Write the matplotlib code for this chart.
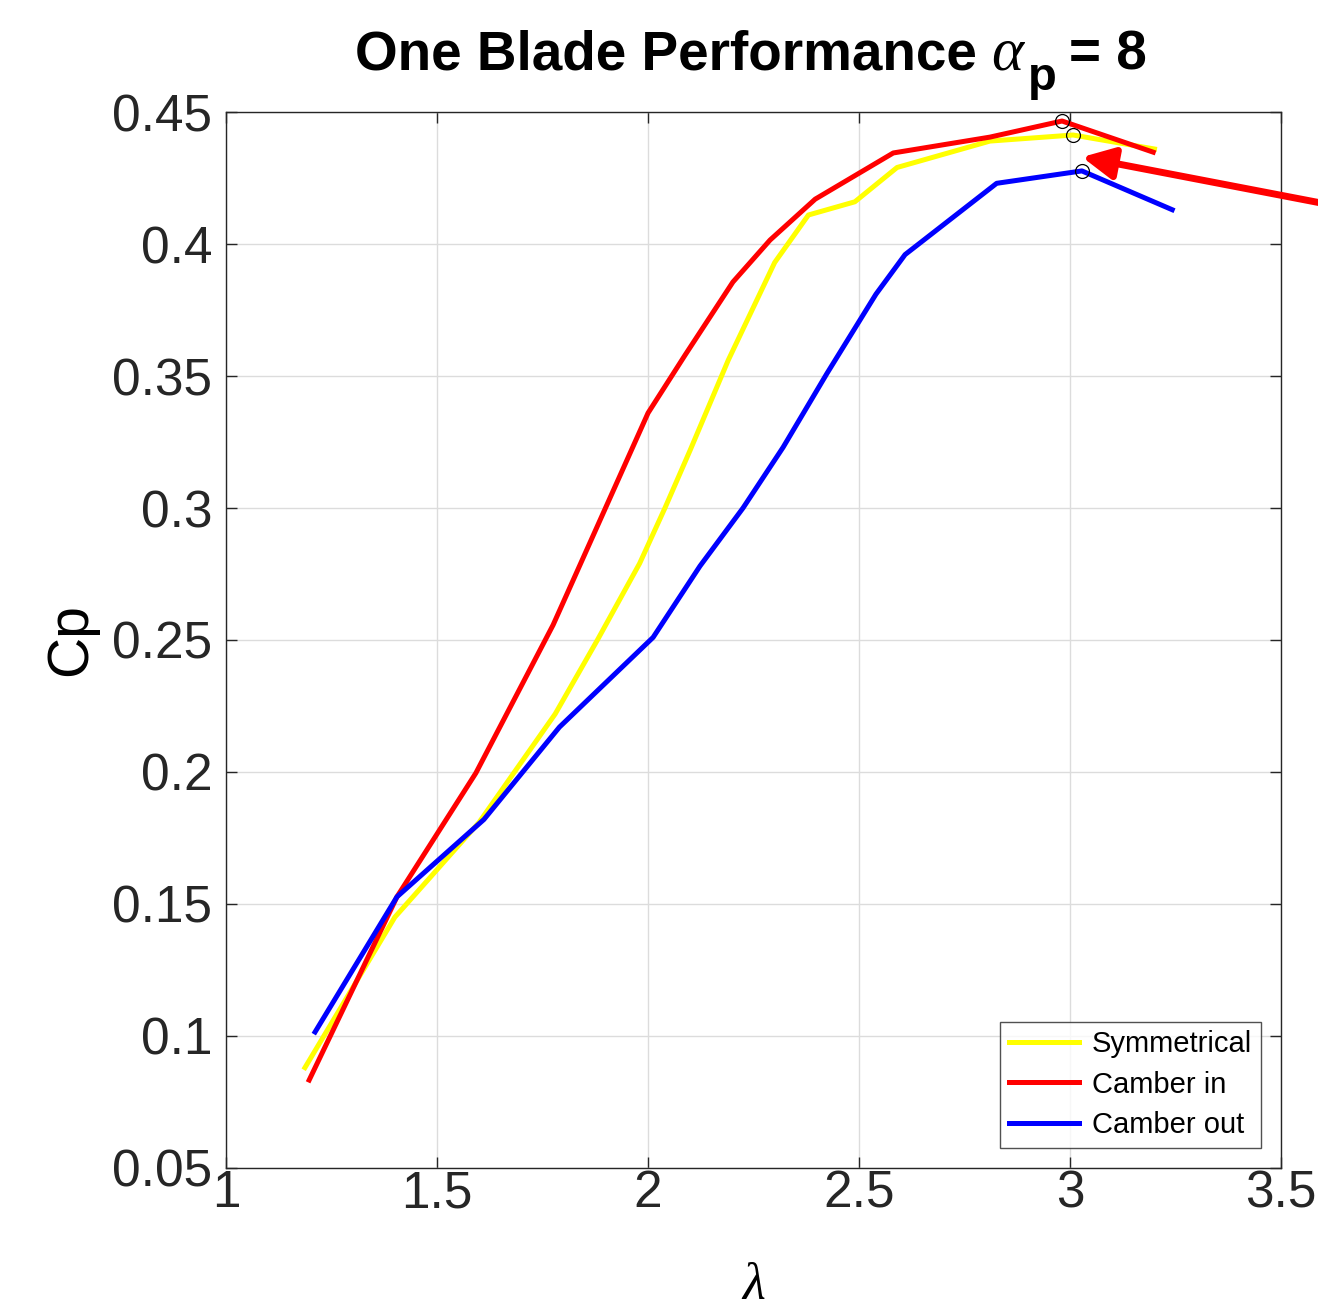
import numpy as np
import matplotlib.pyplot as plt

plt.rcParams['font.family'] = ['Liberation Sans', 'DejaVu Sans']
plt.rcParams['mathtext.fontset'] = 'custom'
plt.rcParams['mathtext.it'] = 'Liberation Serif:italic'
plt.rcParams['mathtext.rm'] = 'Liberation Serif'

# Symmetrical blade
sym_x = [1.187, 1.40, 1.60, 1.78, 1.88, 1.98, 2.04, 2.10, 2.19, 2.30, 2.38, 2.49, 2.59, 2.81, 3.007, 3.20]
sym_cp = [0.088, 0.145, 0.181, 0.222, 0.250, 0.279, 0.300, 0.322, 0.356, 0.393, 0.411, 0.416, 0.429, 0.439, 0.4413, 0.436]

# Camber in
cin_x = [1.197, 1.405, 1.592, 1.775, 2.00, 2.088, 2.201, 2.289, 2.396, 2.581, 2.81, 2.981, 3.197]
cin_cp = [0.0833, 0.1527, 0.1996, 0.2557, 0.336, 0.358, 0.3856, 0.4015, 0.417, 0.4345, 0.4405, 0.4466, 0.4348]

# Camber out
cout_x = [1.211, 1.405, 1.611, 1.79, 2.012, 2.123, 2.225, 2.32, 2.424, 2.54, 2.609, 2.826, 3.028, 3.242]
cout_cp = [0.1015, 0.1527, 0.182, 0.217, 0.251, 0.278, 0.300, 0.323, 0.351, 0.381, 0.396, 0.423, 0.4277, 0.413]

# peak markers
peak_x = [2.981, 3.007, 3.028]
peak_cp = [0.4466, 0.4413, 0.4277]

W, H = 1318, 1312
fig = plt.figure(figsize=(W / 100, H / 100), dpi=100)
ax = fig.add_axes([0.1715, 0.1098, 0.8005, 0.8048])

ax.plot(sym_x, sym_cp, color=(1, 1, 0), lw=3.6, label='Symmetrical')
ax.plot(cin_x, cin_cp, color=(1, 0, 0), lw=3.6, label='Camber in')
ax.plot(cout_x, cout_cp, color=(0, 0, 1), lw=3.6, label='Camber out')
ax.plot(peak_x, peak_cp, 'o', mfc='none', mec='black', mew=0.9, ms=10, zorder=5)

ax.set_xlim(1, 3.5)
ax.set_ylim(0.05, 0.45)
ax.set_xticks([1, 1.5, 2, 2.5, 3, 3.5])
ax.set_xticklabels(['1', '1.5', '2', '2.5', '3', '3.5'])
ax.set_yticks(np.arange(0.05, 0.451, 0.05))
ax.set_yticklabels(['0.05', '0.1', '0.15', '0.2', '0.25', '0.3', '0.35', '0.4', '0.45'])
ax.grid(True, color='#dcdcdc', lw=1)
ax.tick_params(direction='in', length=8, width=1, colors='#262626', labelsize=37,
               top=True, right=True)
ax.tick_params(axis='x', pad=1)
ax.tick_params(axis='y', pad=10)
for s in ax.spines.values():
    s.set_color('#262626')
    s.set_linewidth(1)

ax.set_xlabel(r'$\lambda$', fontsize=38, va='baseline')
ax.xaxis.set_label_coords(0.5, -0.124)
ax.set_ylabel('Cp', fontsize=41, labelpad=10)

leg = ax.legend(loc='lower right', fontsize=21, frameon=True, fancybox=False,
                edgecolor='#262626', handlelength=2.4, borderaxespad=0.7,
                labelspacing=0.42, handletextpad=0.45, borderpad=0.3)
leg.get_frame().set_linewidth(1)

ax.annotate('', xy=(0.821, 0.8803), xycoords='figure fraction',
            xytext=(1.01, 0.8438), textcoords='figure fraction',
            arrowprops=dict(arrowstyle='-|>', color='red', lw=5,
                            mutation_scale=48, shrinkA=0, shrinkB=0))

# title built from pieces so the subscript sits low like the original
fig.canvas.draw()
r = fig.canvas.get_renderer()
base = 1 - 70 / H
t1 = fig.text(355 / W, base, 'One Blade Performance', fontsize=39.5,
              fontweight='bold', va='baseline')
x = t1.get_window_extent(r).x1 + 14
t2 = fig.text(x / W, base, r'$\alpha$', fontsize=44, va='baseline')
x = t2.get_window_extent(r).x1 + 2
t3 = fig.text(x / W, base - 20 / H, 'p', fontsize=34, fontweight='bold', va='baseline')
x = t3.get_window_extent(r).x1 + 12
fig.text(x / W, base, '= 8', fontsize=39.5, fontweight='bold', va='baseline')

fig.savefig('out.png', dpi=100)
